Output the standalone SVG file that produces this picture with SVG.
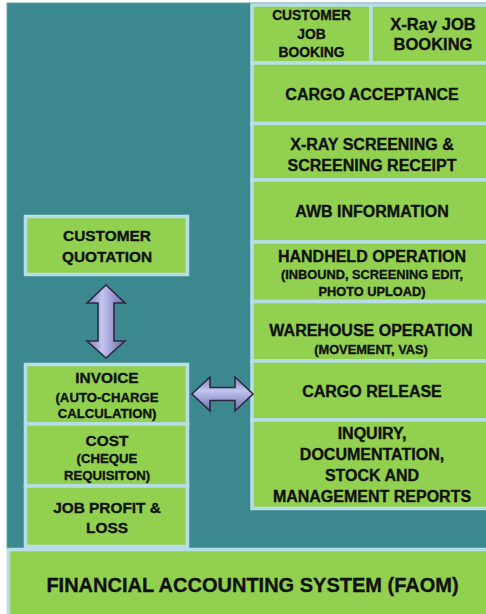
<svg xmlns="http://www.w3.org/2000/svg" width="486" height="614" viewBox="0 0 486 614">
<defs>
<style>
.box{fill:#92d050;stroke:#b7dee8;stroke-width:3.5}
.t{font-family:"Liberation Sans",Arial,sans-serif;font-weight:bold;fill:#111;stroke:#111;stroke-width:0.35;text-anchor:middle}
.m{font-size:16px}
.s{font-size:12.8px}
.lm{font-size:15.4px}
.ls{font-size:13.2px}
.arrow{stroke:#2a2a40;stroke-width:1.6;stroke-linejoin:miter}
</style>
<linearGradient id="gv" x1="0" y1="0" x2="1" y2="0">
<stop offset="0" stop-color="#7c7cbc"/>
<stop offset="0.4" stop-color="#c4c4ee"/>
<stop offset="0.6" stop-color="#a6a6dc"/>
<stop offset="1" stop-color="#6a6aa6"/>
</linearGradient>
<linearGradient id="gh" x1="0" y1="0" x2="0" y2="1">
<stop offset="0" stop-color="#7c7cbc"/>
<stop offset="0.4" stop-color="#c4c4ee"/>
<stop offset="0.6" stop-color="#a6a6dc"/>
<stop offset="1" stop-color="#6a6aa6"/>
</linearGradient>
</defs>
<rect x="0" y="0" width="486" height="614" fill="#ffffff"/>
<rect x="7" y="3" width="481" height="546" fill="#3b898f" stroke="#5fa3a8" stroke-width="1"/>

<g id="customer-job-booking">
<rect class="box" x="252" y="5" width="119" height="58"/>
<text class="t" x="311.5" y="20" font-size="13.8">CUSTOMER</text>
<text class="t" x="311.5" y="39" font-size="13.8">JOB</text>
<text class="t" x="311.5" y="57" font-size="13.8">BOOKING</text>
</g>
<g id="xray-job-booking">
<rect class="box" x="371" y="5" width="117" height="58"/>
<text class="t" x="433" y="30" font-size="16.5">X-Ray JOB</text>
<text class="t" x="433" y="50" font-size="16.5">BOOKING</text>
</g>
<g id="cargo-acceptance">
<rect class="box" x="252" y="63" width="236" height="60.5"/>
<text class="t m" x="372" y="100">CARGO ACCEPTANCE</text>
</g>
<g id="xray-screening">
<rect class="box" x="252" y="123.5" width="236" height="56.5"/>
<text class="t m" x="372" y="150">X-RAY SCREENING &amp;</text>
<text class="t m" x="372" y="171">SCREENING RECEIPT</text>
</g>
<g id="awb-information">
<rect class="box" x="252" y="180" width="236" height="62"/>
<text class="t m" x="372" y="217">AWB INFORMATION</text>
</g>
<g id="handheld-operation">
<rect class="box" x="252" y="242" width="236" height="59.5"/>
<text class="t m" x="372" y="262">HANDHELD OPERATION</text>
<text class="t s" x="372" y="279">(INBOUND, SCREENING EDIT,</text>
<text class="t s" x="372" y="296">PHOTO UPLOAD)</text>
</g>
<g id="warehouse-operation">
<rect class="box" x="252" y="301.5" width="236" height="59.5"/>
<text class="t m" x="371" y="336">WAREHOUSE OPERATION</text>
<text class="t s" x="371" y="354">(MOVEMENT, VAS)</text>
</g>
<g id="cargo-release">
<rect class="box" x="252" y="361" width="236" height="59"/>
<text class="t m" x="372" y="397">CARGO RELEASE</text>
</g>
<g id="inquiry-reports">
<rect class="box" x="252" y="420" width="236" height="88.5"/>
<text class="t m" x="372" y="439">INQUIRY,</text>
<text class="t m" x="372" y="460">DOCUMENTATION,</text>
<text class="t m" x="372" y="481">STOCK AND</text>
<text class="t m" x="372" y="502">MANAGEMENT REPORTS</text>
</g>

<g id="customer-quotation">
<rect class="box" x="25.5" y="216.5" width="162" height="58"/>
<text class="t lm" x="107" y="241">CUSTOMER</text>
<text class="t lm" x="107" y="262">QUOTATION</text>
</g>
<g id="invoice">
<rect class="box" x="25.5" y="364.5" width="162" height="59.5"/>
<text class="t lm" x="107" y="383">INVOICE</text>
<text class="t ls" x="107" y="402">(AUTO-CHARGE</text>
<text class="t ls" x="107" y="418">CALCULATION)</text>
</g>
<g id="cost">
<rect class="box" x="25.5" y="424" width="162" height="62"/>
<text class="t lm" x="107" y="446">COST</text>
<text class="t ls" x="107" y="463">(CHEQUE</text>
<text class="t ls" x="107" y="480">REQUISITON)</text>
</g>
<g id="job-profit-loss">
<rect class="box" x="25.5" y="486" width="162" height="60.5"/>
<text class="t lm" x="107" y="513">JOB PROFIT &amp;</text>
<text class="t lm" x="107" y="533">LOSS</text>
</g>
<g id="faom">
<rect class="box" x="8.5" y="549.5" width="480" height="67"/>
<text class="t" x="252.5" y="592" font-size="20">FINANCIAL ACCOUNTING SYSTEM (FAOM)</text>
</g>

<g id="connectors">
<polygon class="arrow" fill="url(#gv)" points="106,285 125,303 114,303 114,341 125,341 106,358 87,341 98,341 98,303 87,303"/>
<polygon class="arrow" fill="url(#gh)" points="192,394 210,377 210,387.5 235,387.5 235,377 253,394 235,411 235,400.5 210,400.5 210,411"/>
</g>
</svg>
